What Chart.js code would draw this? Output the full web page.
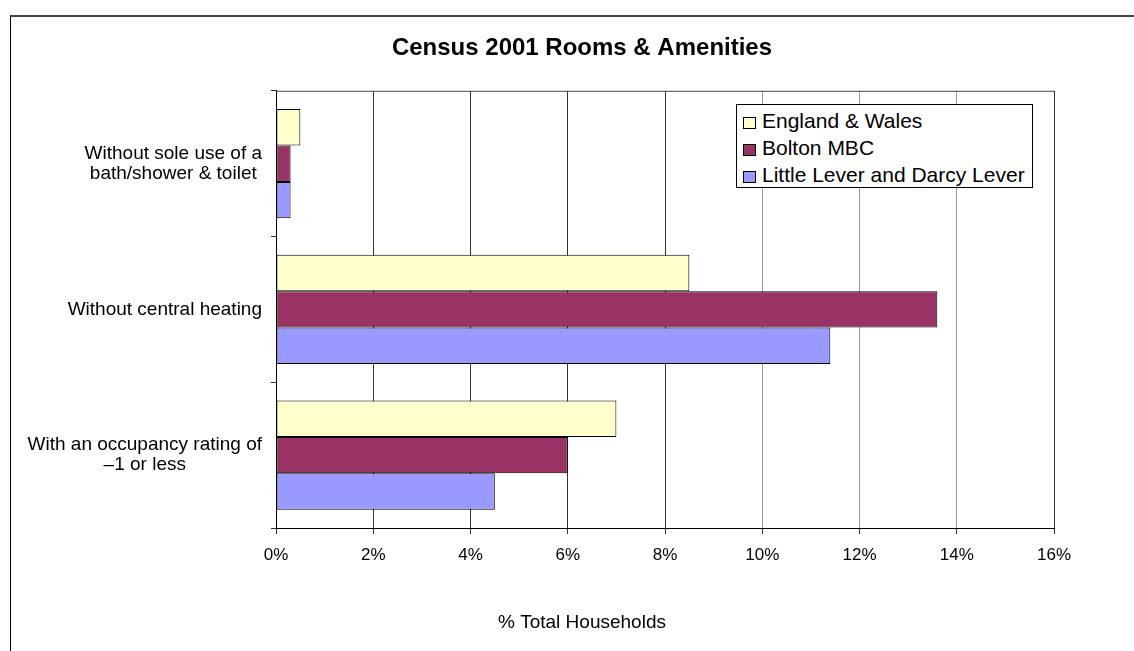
<!DOCTYPE html>
<html>
<head>
<meta charset="utf-8">
<script src="https://cdn.jsdelivr.net/npm/chart.js@4/dist/chart.umd.min.js"></script>
<style>
  body { margin: 0; background: #fff; font-family: "Liberation Sans", Arial, sans-serif; }
  #wrap { position: relative; width: 1134px; height: 651px; overflow: hidden; }
  #frame { position: absolute; left: 10px; top: 15px; right: -5px; bottom: -5px;
           border-top: 2px solid #444; border-left: 1px solid #000; }
  #chart { position: absolute; left: 0; top: 0; }
  #legend { position: absolute; left: 736px; top: 104px; width: 295px; height: 80px;
            border: 1px solid #000; background: #fff; padding-top: 2px; }
  #legend div { height: 27px; line-height: 27px; font-size: 21px; color: #000; white-space: nowrap; }
  #legend span { display: inline-block; width: 11px; height: 10px; border: 1px solid #000;
                 margin: 0 6px 0 6px; vertical-align: -1px; }
</style>
</head>
<body>
<div id="wrap">
  <div id="frame"></div>
  <canvas id="chart" width="1134" height="651"></canvas>
  <div id="legend"></div>
</div>
<script>
const categories = [
  ["Without sole use of a", "bath/shower & toilet"],
  ["Without central heating"],
  ["With an occupancy rating of", "\u20131 or less"],
];
const seriesNames = ["England & Wales", "Bolton MBC", "Little Lever and Darcy Lever"];
const englandWales = [0.5, 8.5, 7.0];
const bolton = [0.3, 13.6, 6.0];
const littleLever = [0.3, 11.4, 4.5];
const colors = ["#FFFFCC", "#993366", "#9999FF"];
const xTicks = [0, 2, 4, 6, 8, 10, 12, 14, 16];

const font = '"Liberation Sans", Arial, sans-serif';

// category labels: lines centred inside a right-aligned block
const categoryLabels = {
  id: "categoryLabels",
  afterDraw(chart) {
    const { ctx } = chart;
    const y = chart.scales.y;
    ctx.save();
    ctx.font = "19px " + font;
    ctx.fillStyle = "#000";
    ctx.textAlign = "center";
    ctx.textBaseline = "middle";
    chart.data.labels.forEach((lines, i) => {
      const w = Math.max(...lines.map((l) => ctx.measureText(l).width));
      const cx = y.right - 14 - w / 2;
      const cy = y.getPixelForValue(i);
      lines.forEach((l, j) => {
        ctx.fillText(l, cx, cy + (j - (lines.length - 1) / 2) * 20);
      });
    });
    ctx.restore();
  },
};

const plotFrame = {
  id: "plotFrame",
  afterDatasetsDraw(chart) {
    const { ctx, chartArea: a } = chart;
    ctx.save();
    ctx.strokeStyle = "#444";
    ctx.lineWidth = 1;
    ctx.beginPath();
    ctx.moveTo(a.left, a.top + 0.5);
    ctx.lineTo(a.right, a.top + 0.5);
    ctx.stroke();
    ctx.restore();
  },
};

const chart = new Chart(document.getElementById("chart"), {
  type: "bar",
  data: {
    labels: categories,
    datasets: [englandWales, bolton, littleLever].map((d, i) => ({
      label: seriesNames[i],
      data: d,
      backgroundColor: colors[i],
      borderColor: "#000",
      borderWidth: 1,
      borderSkipped: false,
      barPercentage: 1,
      categoryPercentage: 0.75,
    })),
  },
  options: {
    indexAxis: "y",
    responsive: false,
    animation: false,
    layout: { padding: { top: 0, right: 0, bottom: 0, left: 30 } },
    plugins: {
      legend: { display: false },
      tooltip: { enabled: false },
      title: {
        display: true,
        text: "Census 2001 Rooms & Amenities",
        color: "#000",
        font: { family: font, size: 24, weight: "bold" },
        padding: { top: 34, bottom: 28 },
      },
      subtitle: {
        display: true,
        position: "bottom",
        text: "% Total Households",
        color: "#000",
        font: { family: font, size: 19 },
        padding: { top: 0, bottom: 17 },
      },
    },
    scales: {
      x: {
        min: 0,
        max: 16,
        afterBuildTicks: (s) => { s.ticks = xTicks.map((v) => ({ value: v })); },
        afterFit: (s) => { s.height = 83.2; },
        ticks: {
          color: "#000",
          font: { family: font, size: 17 },
          padding: 11,
          callback: (v) => v + "%",
        },
        grid: {
          color: (c) => (c.tick && c.tick.value > 8 && c.tick.value < 16 ? "#9a9a9a" : "#333"),
          tickColor: "#333",
          tickLength: 6,
        },
        border: { color: "#000" },
      },
      y: {
        afterFit: (s) => { s.width = 246; },
        ticks: { display: false },
        grid: { drawOnChartArea: false, tickLength: 5, tickColor: "#333" },
        border: { color: "#000" },
      },
      // empty right-hand box keeping the plot clear of the right edge
      side: {
        type: "linear",
        position: "right",
        afterFit: (s) => { s.width = 80; },
        ticks: { display: false },
        grid: { display: false },
        border: { display: false },
      },
    },
  },
  plugins: [categoryLabels, plotFrame],
});

// legend built from the chart datasets
const legendEl = document.getElementById("legend");
chart.data.datasets.forEach((ds) => {
  legendEl.innerHTML += `<div><span style="background:${ds.backgroundColor}"></span>${ds.label}</div>`;
});
</script>
</body>
</html>
